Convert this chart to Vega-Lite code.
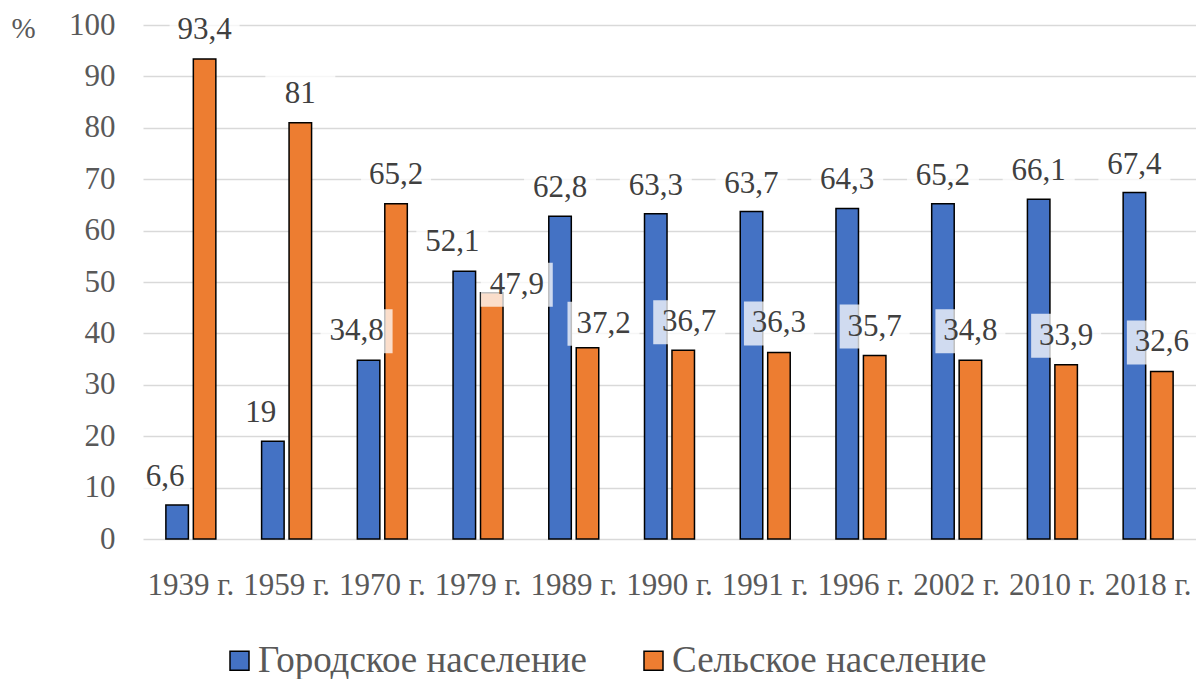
{
  "$schema": "https://vega.github.io/schema/vega-lite/v6.json",
  "autosize": "none",
  "padding": {"left": 143, "top": 25, "right": 0, "bottom": 140},
  "width": 1053,
  "height": 514,
  "background": "white",
  "config": {
    "view": {"stroke": null},
    "locale": {"number": {"decimal": ",", "thousands": " ", "grouping": [3], "currency": ["", " ₽"]}},
    "font": "Liberation Serif"
  },
  "data": {"values": [
    {"year": "1939 г.", "type": "Городское население", "value": 6.6},
    {"year": "1939 г.", "type": "Сельское население", "value": 93.4},
    {"year": "1959 г.", "type": "Городское население", "value": 19},
    {"year": "1959 г.", "type": "Сельское население", "value": 81},
    {"year": "1970 г.", "type": "Городское население", "value": 34.8},
    {"year": "1970 г.", "type": "Сельское население", "value": 65.2},
    {"year": "1979 г.", "type": "Городское население", "value": 52.1},
    {"year": "1979 г.", "type": "Сельское население", "value": 47.9},
    {"year": "1989 г.", "type": "Городское население", "value": 62.8},
    {"year": "1989 г.", "type": "Сельское население", "value": 37.2},
    {"year": "1990 г.", "type": "Городское население", "value": 63.3},
    {"year": "1990 г.", "type": "Сельское население", "value": 36.7},
    {"year": "1991 г.", "type": "Городское население", "value": 63.7},
    {"year": "1991 г.", "type": "Сельское население", "value": 36.3},
    {"year": "1996 г.", "type": "Городское население", "value": 64.3},
    {"year": "1996 г.", "type": "Сельское население", "value": 35.7},
    {"year": "2002 г.", "type": "Городское население", "value": 65.2},
    {"year": "2002 г.", "type": "Сельское население", "value": 34.8},
    {"year": "2010 г.", "type": "Городское население", "value": 66.1},
    {"year": "2010 г.", "type": "Сельское население", "value": 33.9},
    {"year": "2018 г.", "type": "Городское население", "value": 67.4},
    {"year": "2018 г.", "type": "Сельское население", "value": 32.6}
  ]},
  "encoding": {
    "x": {
      "field": "year", "type": "nominal", "sort": null,
      "scale": {"paddingInner": 0.478, "paddingOuter": 0.239},
      "axis": {"title": null, "labelAngle": 0, "labelFont": "Liberation Serif", "labelFontSize": 31, "labelColor": "#595959", "labelPadding": 31, "ticks": false, "domain": false, "grid": false, "labelOverlap": false, "labelLimit": 300}
    },
    "xOffset": {"field": "type", "type": "nominal", "sort": ["Городское население", "Сельское население"], "scale": {"paddingInner": 0.18}},
    "y": {
      "field": "value", "type": "quantitative",
      "scale": {"domain": [0, 100], "nice": false, "zero": true},
      "axis": {
        "title": "%", "titleAngle": 0, "titleX": -120, "titleY": 3, "titleAlign": "center", "titleBaseline": "middle",
        "titleFont": "Liberation Serif", "titleFontSize": 29, "titleFontWeight": "normal", "titleColor": "#595959",
        "values": [0, 10, 20, 30, 40, 50, 60, 70, 80, 90, 100],
        "labelFont": "Liberation Serif", "labelPadding": 28, "labelFontSize": 31, "labelColor": "#595959", "ticks": false, "domain": false,
        "grid": true, "gridColor": "#D9D9D9", "gridWidth": 1.5
      }
    }
  },
  "layer": [
    {
      "mark": {"type": "bar", "stroke": "black", "strokeWidth": 1.5},
      "encoding": {
        "color": {
          "field": "type", "type": "nominal",
          "scale": {"domain": ["Городское население", "Сельское население"], "range": ["#4472C4", "#ED7D31"]},
          "legend": {
            "title": null, "orient": "none", "direction": "horizontal", "legendX": 78, "legendY": 617,
            "padding": 0, "symbolType": "square", "symbolSize": 361, "symbolStrokeColor": "black", "symbolStrokeWidth": 1.5,
            "symbolOpacity": 1, "labelFont": "Liberation Serif", "labelFontSize": 37, "labelColor": "#595959", "labelOffset": 0, "columnPadding": 48, "labelLimit": 500
          }
        }
      }
    },
    {
      "transform": [{"filter": {"field": "type", "equal": "Городское население"}}, {"filter": {"field": "year", "oneOf": ["1939 г.", "1959 г."]}}],
      "layer": [
        {"mark": {"type": "point", "shape": "M-0.74,-1L0.26,-1L0.26,-0.12L-0.74,-0.12Z", "size": 10000, "filled": true, "fill": "white", "fillOpacity": 0.75, "strokeWidth": 0}},
        {"mark": {"type": "text", "font": "Liberation Serif", "dx": -12, "dy": -28, "baseline": "middle", "fontSize": 31, "color": "#404040"}, "encoding": {"text": {"field": "value", "type": "quantitative", "format": ".1~f"}}}
      ]
    },
    {
      "transform": [{"filter": {"field": "type", "equal": "Городское население"}}, {"filter": {"field": "year", "oneOf": ["1970 г.", "1979 г."]}}],
      "layer": [
        {"mark": {"type": "point", "shape": "M-0.96,-1.02L0.48,-1.02L0.48,-0.14L-0.96,-0.14Z", "size": 10000, "filled": true, "fill": "white", "fillOpacity": 0.75, "strokeWidth": 0}},
        {"mark": {"type": "text", "font": "Liberation Serif", "dx": -12, "dy": -29, "baseline": "middle", "fontSize": 31, "color": "#404040"}, "encoding": {"text": {"field": "value", "type": "quantitative", "format": ".1~f"}}}
      ]
    },
    {
      "transform": [{"filter": {"field": "type", "equal": "Городское население"}}, {"filter": {"not": {"field": "year", "oneOf": ["1939 г.", "1959 г.", "1970 г.", "1979 г."]}}}],
      "layer": [
        {"mark": {"type": "point", "shape": "M-0.72,-1L0.72,-1L0.72,-0.12L-0.72,-0.12Z", "size": 10000, "filled": true, "fill": "white", "fillOpacity": 0.75, "strokeWidth": 0}},
        {"mark": {"type": "text", "font": "Liberation Serif", "dx": 0, "dy": -28, "baseline": "middle", "fontSize": 31, "color": "#404040"}, "encoding": {"text": {"field": "value", "type": "quantitative", "format": ".1~f"}}}
      ]
    },
    {
      "transform": [{"filter": {"field": "type", "equal": "Сельское население"}}, {"filter": {"not": {"field": "year", "oneOf": ["1979 г.", "1989 г.", "1990 г."]}}}],
      "layer": [
        {"mark": {"type": "point", "shape": "M-0.7,-1.02L0.7,-1.02L0.7,-0.14L-0.7,-0.14Z", "size": 10000, "filled": true, "fill": "white", "fillOpacity": 0.75, "strokeWidth": 0}},
        {"mark": {"type": "text", "font": "Liberation Serif", "dx": 0, "dy": -29, "baseline": "middle", "fontSize": 31, "color": "#404040"}, "encoding": {"text": {"field": "value", "type": "quantitative", "format": ".1~f"}}}
      ]
    },
    {
      "transform": [{"filter": {"field": "type", "equal": "Сельское население"}}, {"filter": {"field": "year", "equal": "1979 г."}}],
      "layer": [
        {"mark": {"type": "point", "shape": "M-0.22,-0.6L1.22,-0.6L1.22,0.28L-0.22,0.28Z", "size": 10000, "filled": true, "fill": "white", "fillOpacity": 0.75, "strokeWidth": 0}},
        {"mark": {"type": "text", "font": "Liberation Serif", "dx": 25, "dy": -8, "baseline": "middle", "fontSize": 31, "color": "#404040"}, "encoding": {"text": {"field": "value", "type": "quantitative", "format": ".1~f"}}}
      ]
    },
    {
      "transform": [{"filter": {"field": "type", "equal": "Сельское население"}}, {"filter": {"field": "year", "equal": "1989 г."}}],
      "layer": [
        {"mark": {"type": "point", "shape": "M-0.4,-0.92L1.04,-0.92L1.04,-0.04L-0.4,-0.04Z", "size": 10000, "filled": true, "fill": "white", "fillOpacity": 0.75, "strokeWidth": 0}},
        {"mark": {"type": "text", "font": "Liberation Serif", "dx": 16, "dy": -24, "baseline": "middle", "fontSize": 31, "color": "#404040"}, "encoding": {"text": {"field": "value", "type": "quantitative", "format": ".1~f"}}}
      ]
    },
    {
      "transform": [{"filter": {"field": "type", "equal": "Сельское население"}}, {"filter": {"field": "year", "equal": "1990 г."}}],
      "layer": [
        {"mark": {"type": "point", "shape": "M-0.6,-1L0.84,-1L0.84,-0.12L-0.6,-0.12Z", "size": 10000, "filled": true, "fill": "white", "fillOpacity": 0.75, "strokeWidth": 0}},
        {"mark": {"type": "text", "font": "Liberation Serif", "dx": 6, "dy": -28, "baseline": "middle", "fontSize": 31, "color": "#404040"}, "encoding": {"text": {"field": "value", "type": "quantitative", "format": ".1~f"}}}
      ]
    }
  ]
}
